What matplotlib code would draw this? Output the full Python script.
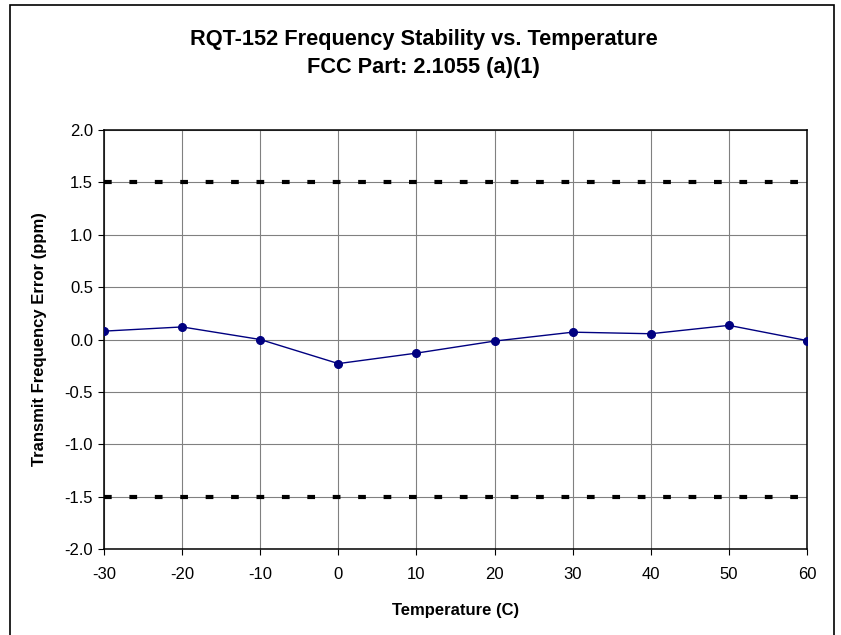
import matplotlib
matplotlib.use('Agg')
import matplotlib.pyplot as plt
from matplotlib.patches import Rectangle
from matplotlib.ticker import FormatStrFormatter

plt.rcParams['font.family'] = ['Liberation Sans', 'DejaVu Sans']
plt.rcParams['axes.unicode_minus'] = False

# data
temps = [-30, -20, -10, 0, 10, 20, 30, 40, 50, 60]
freq_error = [0.08, 0.12, 0.0, -0.23, -0.13, -0.015, 0.07, 0.055, 0.135, -0.01]
limit_upper = 1.5
limit_lower = -1.5
x_ticks = [-30, -20, -10, 0, 10, 20, 30, 40, 50, 60]
y_ticks = [-2.0, -1.5, -1.0, -0.5, 0.0, 0.5, 1.0, 1.5, 2.0]

fig = plt.figure(figsize=(8.41, 6.35), dpi=100)
ax = fig.add_axes([0.1237, 0.1354, 0.9596 - 0.1237, 0.7953 - 0.1354])

# outer frame round the chart
fig.patches.append(Rectangle((10 / 841, -0.05), 824 / 841, 1 - 5 / 635 + 0.05,
                             transform=fig.transFigure, fill=False,
                             edgecolor='black', linewidth=1.2))

# limit lines
for lim in (limit_upper, limit_lower):
    ax.plot([temps[0], temps[-1]], [lim, lim], color='black', linewidth=3.0,
            dashes=(1.85, 4.25), dash_capstyle='butt', zorder=3)

ax.plot(temps, freq_error, color='#000080', linewidth=1.0, marker='o',
        markersize=5.5, markerfacecolor='#000080', markeredgecolor='#000080', zorder=4)

ax.set_xlim(-30, 60)
ax.set_ylim(-2.0, 2.0)
ax.set_xticks(x_ticks)
ax.set_yticks(y_ticks)
ax.yaxis.set_major_formatter(FormatStrFormatter('%.1f'))
ax.grid(True, color='#808080', linewidth=0.8)
ax.set_axisbelow(True)
ax.tick_params(axis='both', direction='out', length=4, width=0.8, color='black',
               labelsize=12, pad=4)
ax.tick_params(axis='x', pad=9)
for sp in ax.spines.values():
    sp.set_color('black')
    sp.set_linewidth(1.1)

ax.set_xlabel('Temperature (C)', fontsize=12, fontweight='bold')
ax.set_ylabel('Transmit Frequency Error (ppm)', fontsize=12, fontweight='bold')
ax.xaxis.set_label_coords(0.5, -(610 - 549) / 419, transform=ax.transAxes)
ax.xaxis.label.set_va('center')
ax.yaxis.set_label_coords(-(104 - 39) / 703, 0.5, transform=ax.transAxes)
ax.yaxis.label.set_va('center')

fig.text(0.504, 1 - 39 / 635, 'RQT-152 Frequency Stability vs. Temperature',
         ha='center', va='center', fontsize=15.7, fontweight='bold')
fig.text(0.504, 1 - 67 / 635, 'FCC Part: 2.1055 (a)(1)',
         ha='center', va='center', fontsize=15.7, fontweight='bold')

fig.savefig('out.png', dpi=100)
